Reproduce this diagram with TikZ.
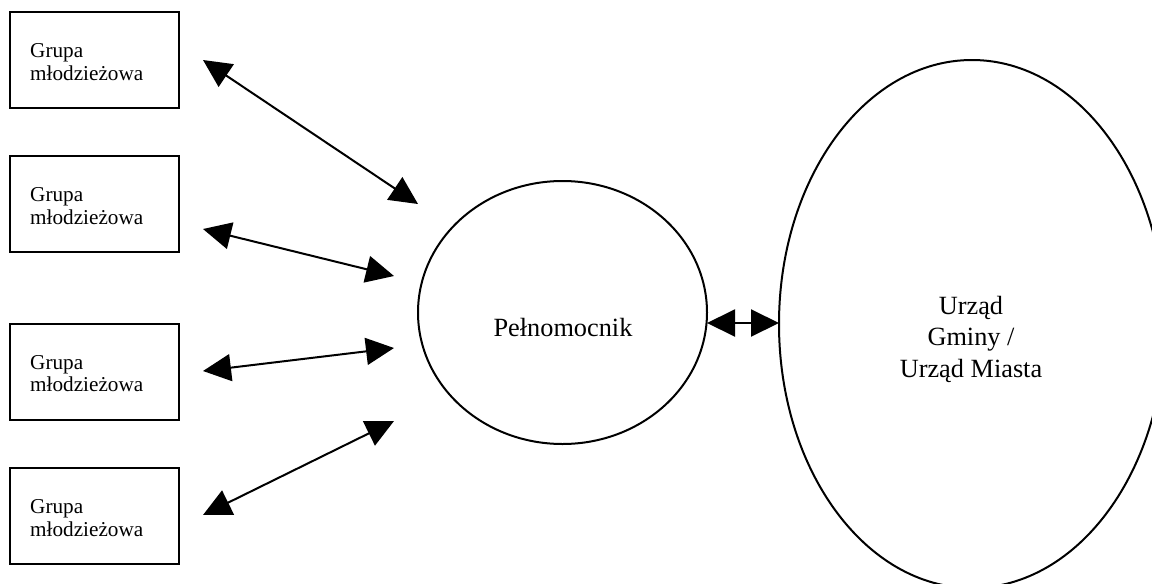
\documentclass[tikz,border=0pt]{standalone}
\usepackage{fontspec}
\setmainfont{Liberation Serif}
\usetikzlibrary{arrows.meta,shapes.geometric}
\begin{document}
\begin{tikzpicture}[x=1pt,y=-1pt,
  grpbox/.style={draw, line width=2pt, rectangle, minimum width=169pt, minimum height=96pt, inner sep=0pt},
  grptxt/.style={anchor=base west, inner sep=0pt, align=left, font=\fontsize{21.2}{22.7}\selectfont},
  oval/.style={draw, line width=2pt, ellipse, inner sep=0pt},
  bigtxt/.style={anchor=base, inner sep=0pt, align=center, font=\fontsize{26.3}{31.5}\selectfont},
  link/.style={line width=2pt, {Triangle[length=28pt,width=27pt]}-{Triangle[length=28pt,width=27pt]}}
]
\useasboundingbox (0,0) rectangle (1152,584);
\clip (0,0) rectangle (1152,584);

% boxes
\node[grpbox] (g1) at (94.5,60) {};
\node[grpbox] (g2) at (94.5,204) {};
\node[grpbox] (g3) at (94.5,371.5) {};
\node[grpbox] (g4) at (94.5,516) {};
\node[grptxt] (t1) at (30,80.2) {Grupa\\młodzieżowa};
\node[grptxt] (t2) at (30,224.2) {Grupa\\młodzieżowa};
\node[grptxt] (t3) at (30,391.7) {Grupa\\młodzieżowa};
\node[grptxt] (t4) at (30,536.2) {Grupa\\młodzieżowa};

% ellipses
\node[oval, minimum width=289pt, minimum height=263pt] (p) at (562.5,312.5) {};
\node[bigtxt] (pt) at (563,336.7) {Pełnomocnik};
\node[oval, minimum width=386pt, minimum height=528pt] (u) at (972,324) {};
\node[bigtxt] (ut) at (971,377) {Urząd\\Gminy /\\Urząd Miasta};

% connector ends
\coordinate (a1) at (203,60);   \coordinate (b1) at (418,204);
\coordinate (a2) at (203,229);  \coordinate (b2) at (394,276);
\coordinate (a3) at (203,371);  \coordinate (b3) at (394,348);
\coordinate (a4) at (203,515);  \coordinate (b4) at (394,421);
\coordinate (pe) at (707,323);  \coordinate (uw) at (779,323);

\draw[link] (a1) -- (b1);
\draw[link] (a2) -- (b2);
\draw[link] (a3) -- (b3);
\draw[link] (a4) -- (b4);
\draw[link] (pe) -- (uw);
\end{tikzpicture}
\end{document}
